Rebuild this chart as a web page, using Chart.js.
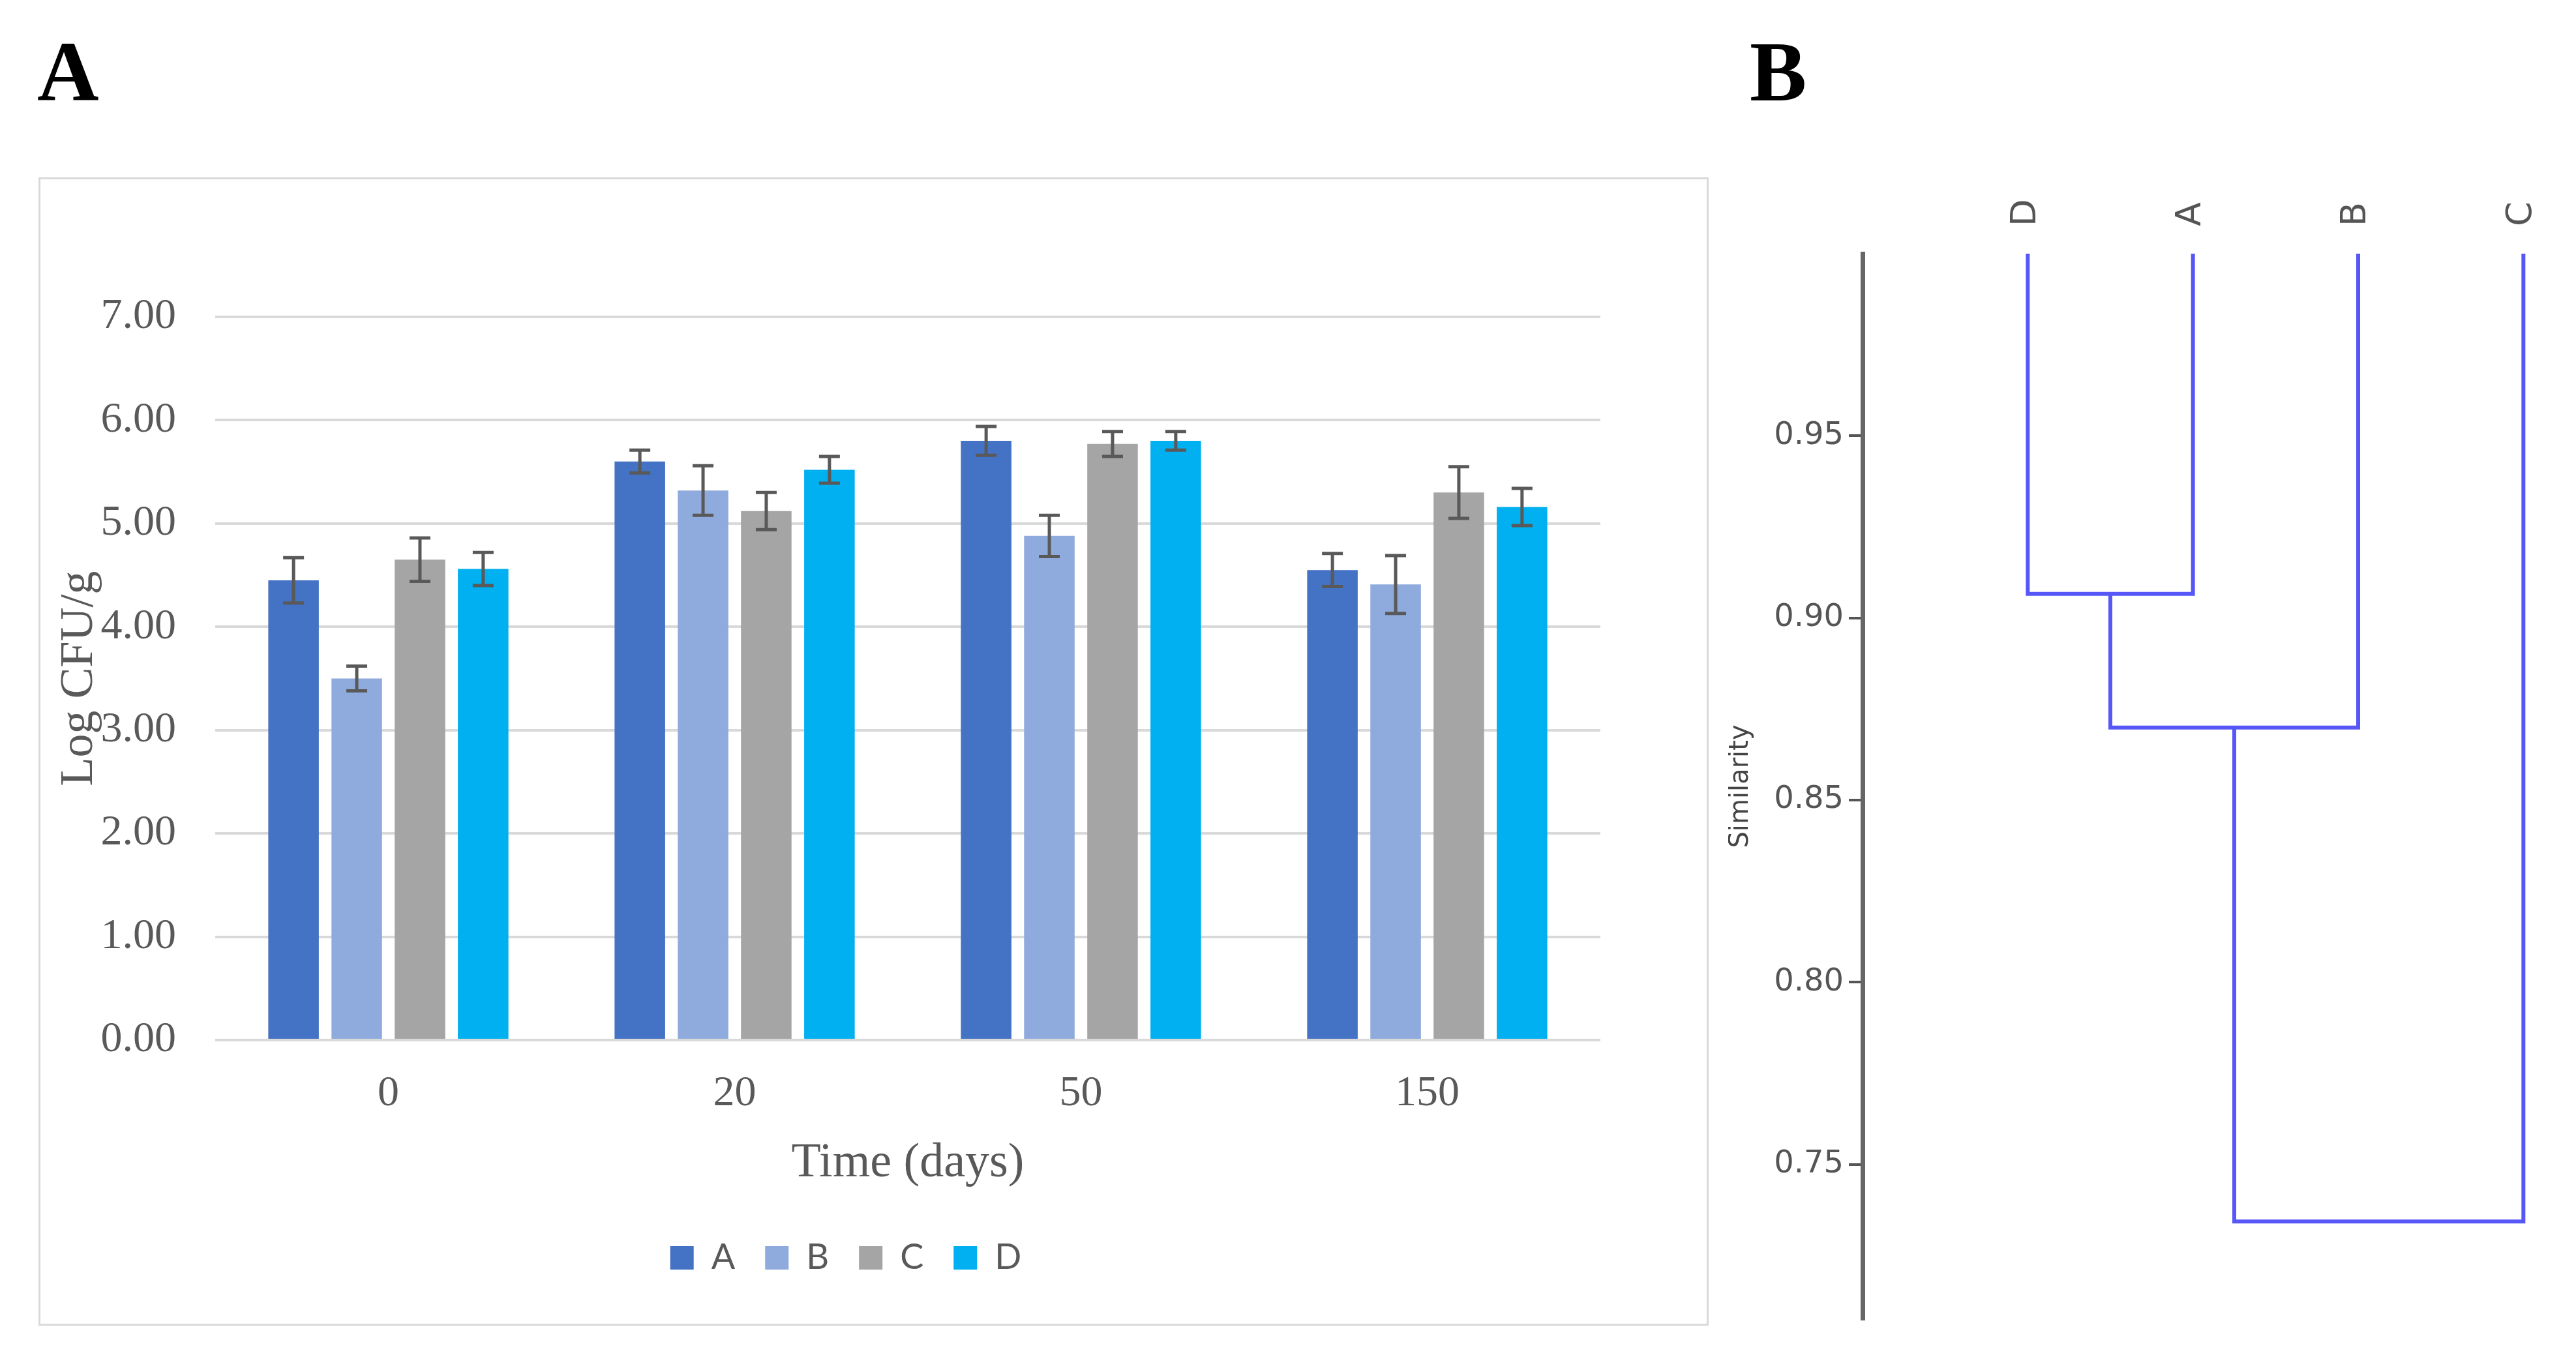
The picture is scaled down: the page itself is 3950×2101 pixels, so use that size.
<!DOCTYPE html>
<html>
<head>
<meta charset="utf-8">
<script src="https://cdn.jsdelivr.net/npm/chart.js@4.4.1/dist/chart.umd.min.js"></script>
<style>
  html, body { margin: 0; padding: 0; background: #fff; }
  body { width: 3950px; height: 2101px; position: relative; overflow: hidden; }
  .panel-label { position: absolute; top: 44px; font-family: "Liberation Serif", serif; font-weight: bold; font-size: 131px; line-height: 1; color: #000; }
  #boxA { position: absolute; left: 59px; top: 272px; width: 2555px; height: 1755px; border: 3px solid #d9d9d9; }
  #wrapA { position: absolute; left: 59px; top: 272px; width: 2561px; height: 1761px; }
  #wrapB { position: absolute; left: 2650px; top: 0; width: 1300px; height: 2101px; }
</style>
</head>
<body>
<div class="panel-label" style="left:57px">A</div>
<div class="panel-label" style="left:2683px">B</div>
<div id="boxA"></div>
<div id="wrapA"><canvas id="chartA" width="2561" height="1761"></canvas></div>
<div id="wrapB"><canvas id="chartB" width="1300" height="2101"></canvas></div>
<script>
// Panel A: counts per storage time
const days = ['0', '20', '50', '150'];
const seriesNames = ['A', 'B', 'C', 'D'];
const seriesColors = ['#4472C4', '#8FAADC', '#A5A5A5', '#00B0F0'];
const meanA = [4.45, 5.60, 5.80, 4.55];
const meanB = [3.50, 5.32, 4.88, 4.41];
const meanC = [4.65, 5.12, 5.77, 5.30];
const meanD = [4.56, 5.52, 5.80, 5.16];
const errA = [0.22, 0.11, 0.14, 0.16];
const errB = [0.12, 0.24, 0.20, 0.28];
const errC = [0.21, 0.18, 0.12, 0.25];
const errD = [0.16, 0.13, 0.09, 0.18];
const countTicks = [0, 1, 2, 3, 4, 5, 6, 7];

// Panel B: dendrogram (node ids 0-3 are leaves, 4+ are merges in order)
const leaves = ['D', 'A', 'B', 'C'];
const mergeLeft = [0, 4, 5];
const mergeRight = [1, 2, 3];
const mergeSim = [0.9066, 0.8699, 0.7343];
const simTicks = [0.75, 0.80, 0.85, 0.90, 0.95];
const simMin = 0.7075;
const simMax = 1.0;

const means = [meanA, meanB, meanC, meanD];
const errs = [errA, errB, errC, errD];

const errorBars = {
  id: 'errorBars',
  afterDatasetsDraw(chart) {
    const ctx = chart.ctx;
    const y = chart.scales.y;
    ctx.save();
    ctx.strokeStyle = '#595959';
    ctx.lineWidth = 5;
    chart.data.datasets.forEach((ds, i) => {
      chart.getDatasetMeta(i).data.forEach((bar, j) => {
        const top = y.getPixelForValue(ds.data[j] + ds.err[j]);
        const bot = y.getPixelForValue(ds.data[j] - ds.err[j]);
        ctx.beginPath();
        ctx.moveTo(bar.x, top); ctx.lineTo(bar.x, bot);
        ctx.moveTo(bar.x - 16, top); ctx.lineTo(bar.x + 16, top);
        ctx.moveTo(bar.x - 16, bot); ctx.lineTo(bar.x + 16, bot);
        ctx.stroke();
      });
    });
    ctx.restore();
  }
};

const serif = 'Liberation Serif';
const grey = '#595959';

new Chart(document.getElementById('chartA'), {
  type: 'bar',
  data: {
    labels: days,
    datasets: seriesNames.map((name, i) => ({
      label: name,
      data: means[i],
      err: errs[i],
      backgroundColor: seriesColors[i],
      borderWidth: 0,
      categoryPercentage: 0.73,
      barPercentage: 0.8
    }))
  },
  options: {
    responsive: false,
    animation: false,
    layout: { padding: { top: 214, right: 166, left: 81, bottom: 67 } },
    plugins: {
      tooltip: { enabled: false },
      legend: {
        position: 'bottom',
        labels: {
          boxWidth: 36,
          boxHeight: 36,
          padding: 46,
          color: grey,
          font: { family: 'Lato', size: 54 }
        }
      }
    },
    scales: {
      x: {
        grid: { display: false },
        border: { display: false },
        afterFit: s => { s.height = 261; },
        ticks: { padding: 35, color: grey, font: { family: serif, size: 66 } },
        title: {
          display: true,
          text: 'Time (days)',
          color: grey,
          font: { family: serif, size: 74 },
          padding: { top: 0, bottom: 27 }
        }
      },
      y: {
        min: 0,
        max: 7,
        afterBuildTicks: s => { s.ticks = countTicks.map(v => ({ value: v })); },
        afterFit: s => { s.width = 190; },
        grid: { color: '#d9d9d9', lineWidth: 4, drawTicks: false },
        border: { display: false },
        ticks: {
          padding: 60,
          color: grey,
          font: { family: serif, size: 66 },
          callback: v => v.toFixed(2)
        },
        title: {
          display: true,
          text: 'Log CFU/g',
          color: grey,
          font: { family: serif, size: 72, lineHeight: 1 },
          padding: { top: -54, bottom: 0 }
        }
      }
    }
  },
  plugins: [errorBars]
});

// build dendrogram branches from the merge list
const nodeX = leaves.map((_, i) => i);
const nodeY = leaves.map(() => simMax);
const branches = mergeSim.map((h, k) => {
  const l = mergeLeft[k];
  const r = mergeRight[k];
  const pts = [
    { x: nodeX[l], y: nodeY[l] },
    { x: nodeX[l], y: h },
    { x: nodeX[r], y: h },
    { x: nodeX[r], y: nodeY[r] }
  ];
  nodeX.push((nodeX[l] + nodeX[r]) / 2);
  nodeY.push(h);
  return {
    data: pts,
    showLine: true,
    borderColor: '#5757f7',
    borderWidth: 6,
    borderJoinStyle: 'miter',
    pointRadius: 0,
    fill: false,
    tension: 0
  };
});

new Chart(document.getElementById('chartB'), {
  type: 'scatter',
  data: { datasets: branches },
  options: {
    responsive: false,
    animation: false,
    layout: { padding: { top: 0, right: 30, left: 0, bottom: 78 } },
    plugins: { legend: { display: false }, tooltip: { enabled: false } },
    scales: {
      x: {
        type: 'linear',
        position: 'top',
        min: -1,
        max: 3.2,
        afterBuildTicks: s => { s.ticks = leaves.map((_, i) => ({ value: i })); },
        afterFit: s => { s.height = 389; },
        grid: { display: false },
        border: { display: false },
        ticks: {
          autoSkip: false,
          minRotation: 90,
          maxRotation: 90,
          padding: 34,
          labelOffset: 62,
          color: '#555',
          font: { family: 'DejaVu Sans', size: 54 },
          callback: v => leaves[v]
        }
      },
      y: {
        min: simMin,
        max: simMax,
        afterBuildTicks: s => { s.ticks = simTicks.map(v => ({ value: v })); },
        afterFit: s => { s.width = 206; },
        border: { display: true, color: '#666', width: 7 },
        grid: { drawOnChartArea: false, drawTicks: true, tickLength: 21, color: '#555', lineWidth: 4 },
        ticks: {
          padding: 8,
          color: '#555',
          font: { family: 'DejaVu Sans', size: 48 },
          callback: v => v.toFixed(2)
        },
        title: {
          display: true,
          text: 'Similarity',
          color: '#444',
          font: { family: 'DejaVu Sans', size: 40, lineHeight: 1 },
          padding: 0
        }
      }
    }
  }
});
</script>
</body>
</html>
